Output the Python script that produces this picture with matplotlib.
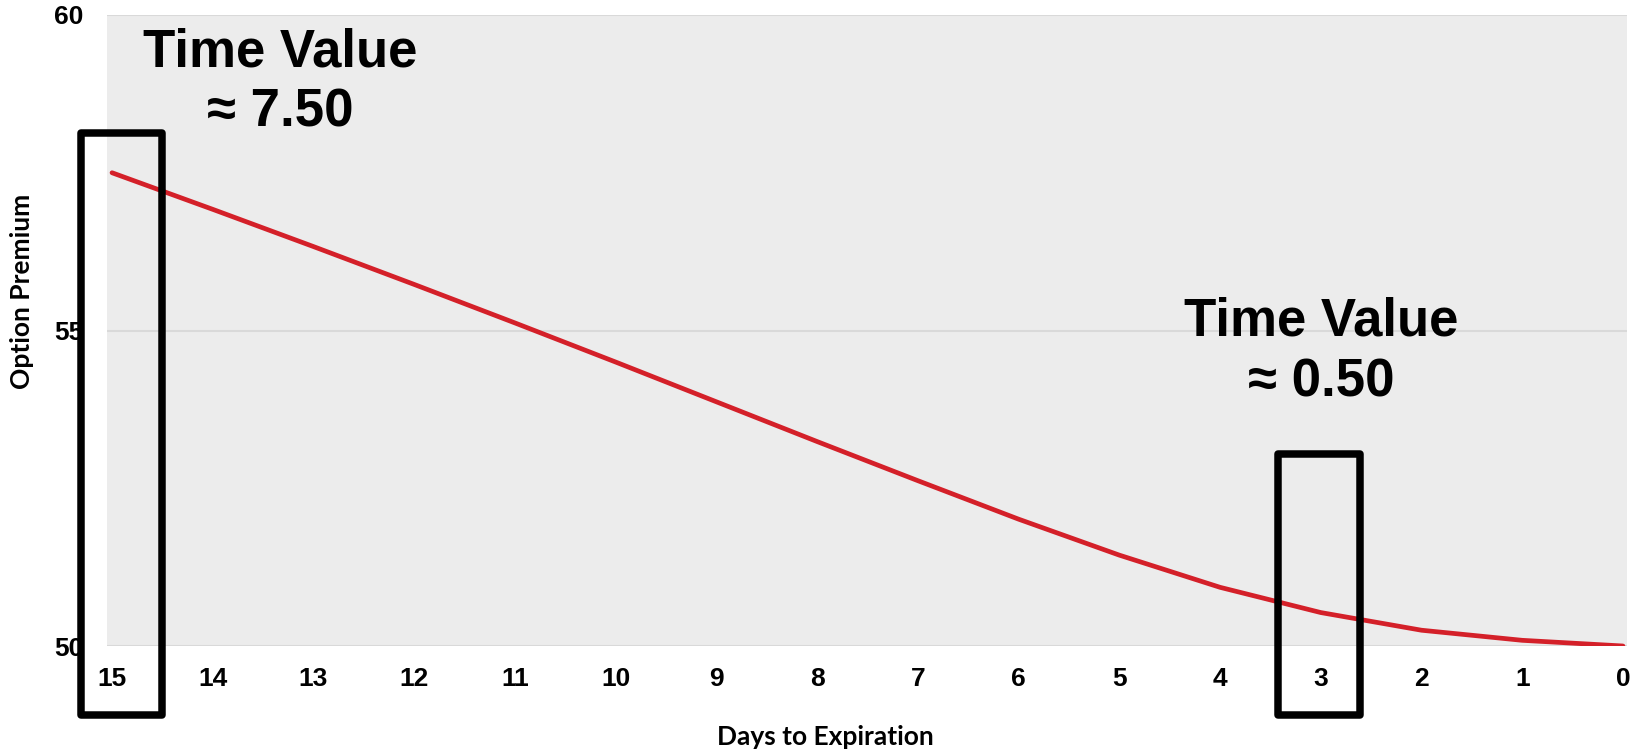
import matplotlib.pyplot as plt
from matplotlib.patches import Rectangle

# data
days = [15, 14, 13, 12, 11, 10, 9, 8, 7, 6, 5, 4, 3, 2, 1, 0]
premium = [57.50, 56.92, 56.33, 55.73, 55.12, 54.50, 53.87, 53.24,
           52.62, 52.01, 51.44, 50.93, 50.53, 50.25, 50.09, 50.00]
y_ticks = [50, 55, 60]

# highlight boxes: (left day, right day, top, bottom) and their labels
boxes = [(15.31, 14.50, 58.13, 48.90), (3.42, 2.61, 53.05, 48.90)]
notes = [("Time Value\n≈ 7.50", 13.33, 58.93), ("Time Value\n≈ 0.50", 3.0, 54.66)]

fig = plt.figure(figsize=(16.32, 7.49), dpi=100)
fig.patch.set_facecolor('white')
ax = fig.add_axes([107 / 1632, 1 - 646 / 749, 1520 / 1632, 631 / 749])
ax.set_facecolor('#ececec')

ax.plot(days, premium, color='#d42029', linewidth=3.4, solid_capstyle='round', zorder=3)

ax.set_xlim(15.05, -0.04)
ax.set_ylim(50, 60)
ax.set_xticks(days)
ax.set_xticklabels([str(d) for d in days])
ax.set_yticks(y_ticks)
for s in ax.spines.values():
    s.set_visible(False)
ax.yaxis.grid(True, color='#d9d9d9', linewidth=1.5)
ax.set_axisbelow(True)
ax.tick_params(axis='both', length=0, labelsize=19)
ax.tick_params(axis='x', pad=15)
ax.tick_params(axis='y', pad=17)
for lab in ax.get_xticklabels() + ax.get_yticklabels():
    lab.set_fontfamily('Liberation Sans')
    lab.set_fontweight('bold')

# axis titles
fig.text(825 / 1632, 1 - 737 / 749, 'Days to Expiration', ha='center', va='center',
         fontsize=19, fontweight='bold', family='Lato')
fig.text(22 / 1632, 1 - 291 / 749, 'Option Premium', ha='center', va='center',
         rotation=90, fontsize=19, fontweight='bold', family='Lato')

for x0, x1, top, bot in boxes:
    r = Rectangle((x1, bot), x0 - x1, top - bot, fill=False, edgecolor='black',
                  linewidth=5.4, joinstyle='round', clip_on=False, zorder=6)
    ax.add_patch(r)

for txt, x, y in notes:
    ax.text(x, y, txt, ha='center', va='center', fontsize=38, fontweight='bold',
            family='Liberation Sans', linespacing=1.28, zorder=7)

plt.savefig('out.png', dpi=100, facecolor='white')
